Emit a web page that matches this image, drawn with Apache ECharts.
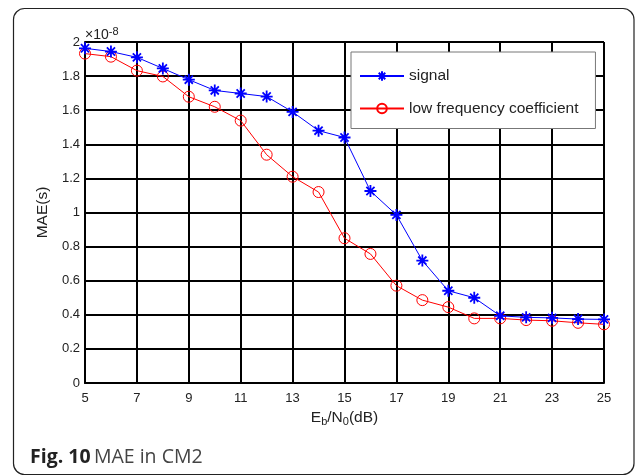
<!DOCTYPE html>
<html>
<head>
<meta charset="utf-8">
<script src="https://cdn.jsdelivr.net/npm/echarts@6/dist/echarts.min.js"></script>
<style>
html,body{margin:0;padding:0;background:#fff;}
#c{width:635px;height:476px;}
</style>
</head>
<body>
<div id="c"></div>
<script>
const ebn0 = [5,6,7,8,9,10,11,12,13,14,15,16,17,18,19,20,21,22,23,24,25];
const signalMAE = [1.963,1.944,1.910,1.845,1.779,1.716,1.698,1.680,1.590,1.480,1.440,1.126,0.986,0.718,0.541,0.500,0.394,0.385,0.382,0.375,0.373];
const lowFreqMAE = [1.932,1.914,1.832,1.798,1.679,1.620,1.539,1.339,1.210,1.120,0.849,0.757,0.571,0.486,0.445,0.379,0.379,0.369,0.365,0.353,0.344];
const seriesNames = ['signal','low frequency coefficient'];
const captionBold = 'Fig. 10';
const captionText = 'MAE in CM2';

const chart = echarts.init(document.getElementById('c'));
const font = 'Liberation Sans, Arial, sans-serif';
const star = 'path://M0,5L10,5M5,0L5,10M1.6,1.6L8.4,8.4M8.4,1.6L1.6,8.4';
const pair = a => ebn0.map((x,i)=>[x,a[i]]);

chart.setOption({
  animation:false,
  backgroundColor:'#fff',
  grid:{left:85,right:31,top:42,bottom:93},
  xAxis:{
    type:'value',min:5,max:25,interval:2,
    axisLine:{show:true,lineStyle:{color:'#000',width:2}},
    axisTick:{show:false},
    splitLine:{show:true,lineStyle:{color:'#000',width:2}},
    axisLabel:{color:'#222',fontFamily:font,fontSize:13,margin:9},
    name:'E{s|b}/N{s|0}(dB)',
    nameLocation:'middle',nameGap:23,
    nameTextStyle:{color:'#222',fontFamily:font,fontSize:15.5,verticalAlign:'top',
      rich:{s:{fontFamily:font,fontSize:11,color:'#222',verticalAlign:'bottom',padding:[9,0,0,0]}}}
  },
  yAxis:{
    type:'value',min:0,max:2,interval:0.2,
    axisLine:{show:true,lineStyle:{color:'#000',width:2}},
    axisTick:{show:false},
    splitLine:{show:true,lineStyle:{color:'#000',width:2}},
    axisLabel:{color:'#222',fontFamily:font,fontSize:13,margin:5,
      formatter:v=>String(parseFloat(v.toFixed(1)))},
    name:'MAE(s)',nameLocation:'middle',nameGap:31,
    nameTextStyle:{color:'#222',fontFamily:font,fontSize:15.5}
  },
  legend:{
    orient:'vertical',left:351,top:52,
    backgroundColor:'#fff',borderColor:'#777',borderWidth:1,
    padding:[16,17,12,8],itemGap:16.5,itemWidth:44,itemHeight:12,
    textStyle:{color:'#222',fontFamily:font,fontSize:15.5},
    data:seriesNames
  },
  graphic:[
    {type:'rect',shape:{x:13.5,y:8.5,width:620.5,height:466,r:11},
     style:{fill:'none',stroke:'#222',lineWidth:1.2},silent:true,z:-10},
    {type:'text',left:85,top:26,
     style:{text:'×10{sup|-8}',font:'14px '+font,fill:'#222',
       rich:{sup:{fontFamily:font,fontSize:11,fill:'#222',verticalAlign:'top',padding:[0,0,8,0]}}}},
    {type:'text',left:30,top:447,
     style:{text:'{b|'+captionBold+'} {r|'+captionText+'}',
       rich:{b:{fontFamily:'Open Sans',fontWeight:'bold',fontSize:19.5,fill:'#222'},
             r:{fontFamily:'Open Sans',fontSize:19.5,fill:'#444'}}}}
  ],
  series:[
    {name:seriesNames[0],type:'line',data:pair(signalMAE),
     color:'#0000ff',
     lineStyle:{color:'#0000ff',width:1},
     symbol:star,symbolSize:12,
     itemStyle:{color:'#0000ff',borderColor:'#0000ff',borderWidth:1.8},
     z:3},
    {name:seriesNames[1],type:'line',data:pair(lowFreqMAE),
     color:'#ff0000',
     lineStyle:{color:'#ff0000',width:1},
     symbol:'circle',symbolSize:11,
     itemStyle:{color:'rgba(255,255,255,0)',borderColor:'#ff0000',borderWidth:1},
     z:2}
  ]
});
</script>
</body>
</html>
